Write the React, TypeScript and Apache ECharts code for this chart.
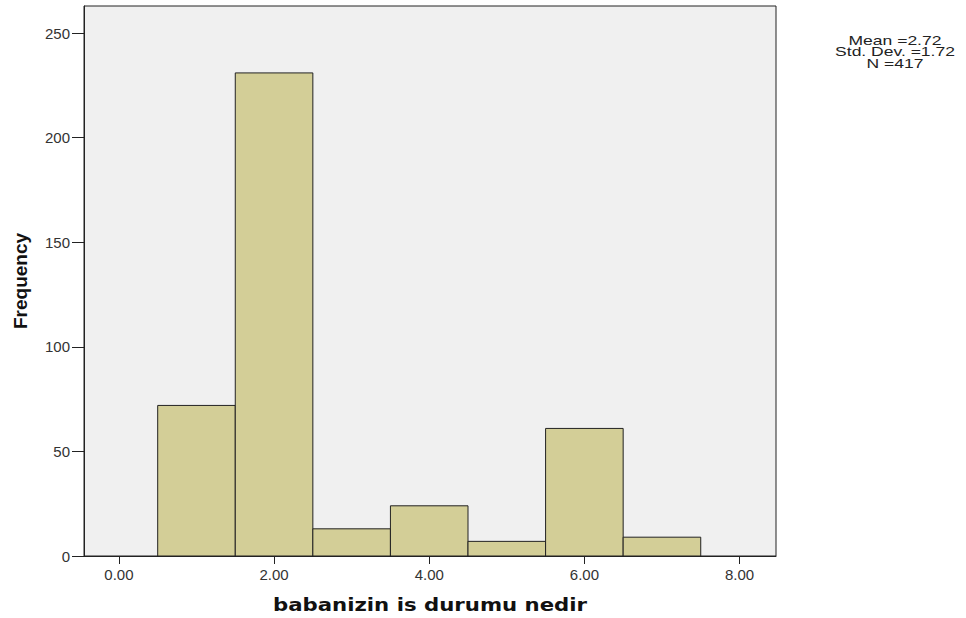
import React, { useEffect, useRef } from "react";
import * as echarts from "echarts";

const binStarts = [0.5, 1.5, 2.5, 3.5, 4.5, 5.5, 6.5];
const binEnds = [1.5, 2.5, 3.5, 4.5, 5.5, 6.5, 7.5];
const counts = [72, 231, 13, 24, 7, 61, 9];
const xTicks = [0, 2, 4, 6, 8];
const yTicks = [0, 50, 100, 150, 200, 250];
const statLines = ["Mean =2.72", "Std. Dev. =1.72", "N =417"];
const xTitle = "babanizin is durumu nedir";
const yTitle = "Frequency";

export default function App() {
  const ref = useRef<HTMLDivElement>(null);
  useEffect(() => {
    if (!ref.current) return;
    const chart = echarts.init(ref.current, undefined, { renderer: "svg" });
    const data = counts.map((c, i) => [binStarts[i], binEnds[i], c]);
    const font = "Liberation Sans, Arial, sans-serif";
    chart.setOption({
      animation: false,
      grid: {
        left: 84, top: 6, width: 692, height: 550,
        outerBoundsMode: "none",
        containLabel: false,
        show: true, backgroundColor: "#f0f0f0", borderColor: "#222", borderWidth: 1,
      },
      xAxis: {
        type: "value",
        min: -0.45,
        max: 8.47,
        splitLine: { show: false },
        axisLine: { show: true, onZero: false, lineStyle: { color: "#222" } },
        axisTick: { show: true, customValues: xTicks, length: 8, lineStyle: { color: "#222" } },
        axisLabel: {
          customValues: xTicks,
          formatter: (v: number) => v.toFixed(2),
          fontFamily: font,
          fontSize: 15,
          color: "#333",
          margin: 11,
        },
      },
      yAxis: {
        type: "value",
        min: 0,
        max: 263,
        splitLine: { show: false },
        axisLine: { show: true, onZero: false, lineStyle: { color: "#222" } },
        axisTick: { show: true, customValues: yTicks, length: 12, lineStyle: { color: "#222" } },
        axisLabel: {
          customValues: yTicks,
          fontFamily: font,
          fontSize: 15,
          color: "#333",
          margin: 14,
        },
        name: yTitle,
        nameLocation: "middle",
        nameGap: 54,
        nameTextStyle: { fontFamily: font, fontWeight: "bold", fontSize: 19, color: "#111" },
      },
      graphic: [
        {
          type: "text",
          x: 430,
          y: 605,
          scaleX: 1.25,
          style: {
            text: xTitle,
            align: "center",
            verticalAlign: "middle",
            fontFamily: "DejaVu Sans",
            fontWeight: "bold",
            fontSize: 17,
            fill: "#111",
          },
        },
        ...statLines.map((t, i) => ({
          type: "text",
          x: 895,
          y: 40 + i * 11.7,
          scaleX: 1.55,
          scaleY: 1.1,
          style: {
            text: t,
            align: "center",
            verticalAlign: "middle",
            fontFamily: font,
            fontSize: 11.3,
            fill: "#222",
          },
        })),
      ],
      series: [
        {
          type: "custom",
          data,
          encode: { x: [0, 1], y: 2 },
          renderItem: (params: any, api: any) => {
            const p0 = api.coord([api.value(0), api.value(2)]);
            const p1 = api.coord([api.value(1), 0]);
            return {
              type: "rect",
              shape: { x: p0[0], y: p0[1], width: p1[0] - p0[0], height: p1[1] - p0[1] },
              style: { fill: "#d3ce97", stroke: "#222", lineWidth: 1 },
            };
          },
        },
      ],
    });
    return () => chart.dispose();
  }, []);
  return <div ref={ref} style={{ position: "absolute", left: 0, top: 0, width: 966, height: 618 }} />;
}
